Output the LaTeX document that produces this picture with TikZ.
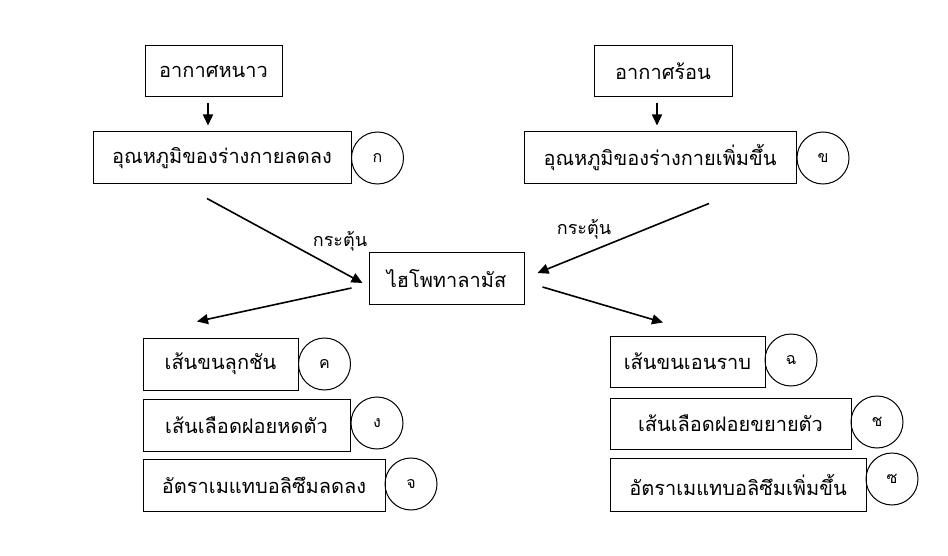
\documentclass[tikz,border=0pt]{standalone}
\usepackage{fontspec}
\newfontfamily\thaifont[Script=Thai]{Loma}
\usetikzlibrary{arrows.meta}

\begin{document}
\begin{tikzpicture}[
  x=1pt, y=-1pt,
  >={Triangle[length=11pt, width=10pt]},
  every node/.style={font=\thaifont\fontsize{20}{24}\selectfont, text=black},
  box/.style={draw, line width=1pt, minimum height=52pt, inner sep=0pt},
  tag/.style={draw, circle, line width=1pt, minimum size=52pt, inner sep=0pt,
    font=\thaifont\fontsize{16}{18}\selectfont},
  stim/.style={font=\thaifont\fontsize{18}{21}\selectfont},
  arr/.style={->, line width=1.6pt},
]

% Canvas
\useasboundingbox (0,0) rectangle (948,556);

% Cold side
\node[box, minimum width=137pt, minimum height=51pt] (cold) at (213.5,71.5) {อากาศหนาว};
\node[box, minimum width=258pt] (lowtemp) at (222,158) {อุณหภูมิของร่างกายลดลง};
\node[tag] (tagA) at (377.5,158) {ก};

% Hot side
\node[box, minimum width=138pt, minimum height=51pt] (hot) at (663,71.5) {อากาศร้อน};
\node[box, minimum width=272pt] (hightemp) at (660,158) {อุณหภูมิของร่างกายเพิ่มขึ้น};
\node[tag] (tagB) at (823,158) {ข};

% Hypothalamus
\node[box, minimum width=155pt, minimum height=51pt] (hypo) at (446.5,278.5) {ไฮโพทาลามัส};
\node[stim] (stimL) at (340,241) {กระตุ้น};
\node[stim] (stimR) at (584,229) {กระตุ้น};

% Responses to cold
\node[box, minimum width=155pt] (hairup) at (220.5,364) {เส้นขนลุกชัน};
\node[tag] (tagC) at (324.5,364) {ค};
\node[box, minimum width=207pt] (vesnarrow) at (246.5,425) {เส้นเลือดฝอยหดตัว};
\node[tag] (tagD) at (377,423) {ง};
\node[box, minimum width=242pt] (metlow) at (264,485) {อัตราเมแทบอลิซึมลดลง};
\node[tag] (tagE) at (411,484) {จ};

% Responses to heat
\node[box, minimum width=155pt, minimum height=51pt] (hairflat) at (687.5,361.5) {เส้นขนเอนราบ};
\node[tag] (tagF) at (791,360) {ฉ};
\node[box, minimum width=241pt, minimum height=51pt] (vesdilate) at (730.5,423.5) {เส้นเลือดฝอยขยายตัว};
\node[tag] (tagG) at (877,422) {ช};
\node[box, minimum width=256pt, minimum height=53pt] (methigh) at (738,484.5) {อัตราเมแทบอลิซึมเพิ่มขึ้น};
\node[tag] (tagH) at (892,479) {ซ};

% Arrows
\draw[arr] ([xshift=-5.5pt, yshift=-6pt]cold.south) -- ([xshift=-5.5pt, yshift=6pt]cold.south |- lowtemp.north);
\draw[arr] ([xshift=-6pt, yshift=-6pt]hot.south) -- ([xshift=-6pt, yshift=6pt]hot.south |- hightemp.north);
\draw[arr] ([xshift=-15pt, yshift=-14pt]lowtemp.south) -- ([xshift=-6pt, yshift=-4.5pt]hypo.west);
\draw[arr] ([xshift=49pt, yshift=-19pt]hightemp.south) -- ([xshift=13pt, yshift=5.5pt]hypo.east);
\draw[arr] ([xshift=-17pt, yshift=-9.5pt]hypo.west) -- ([xshift=-23.5pt, yshift=16pt]hairup.north);
\draw[arr] ([xshift=18pt, yshift=-8.5pt]hypo.east) -- ([xshift=-24.5pt, yshift=13pt]hairflat.north);

\end{tikzpicture}
\end{document}
